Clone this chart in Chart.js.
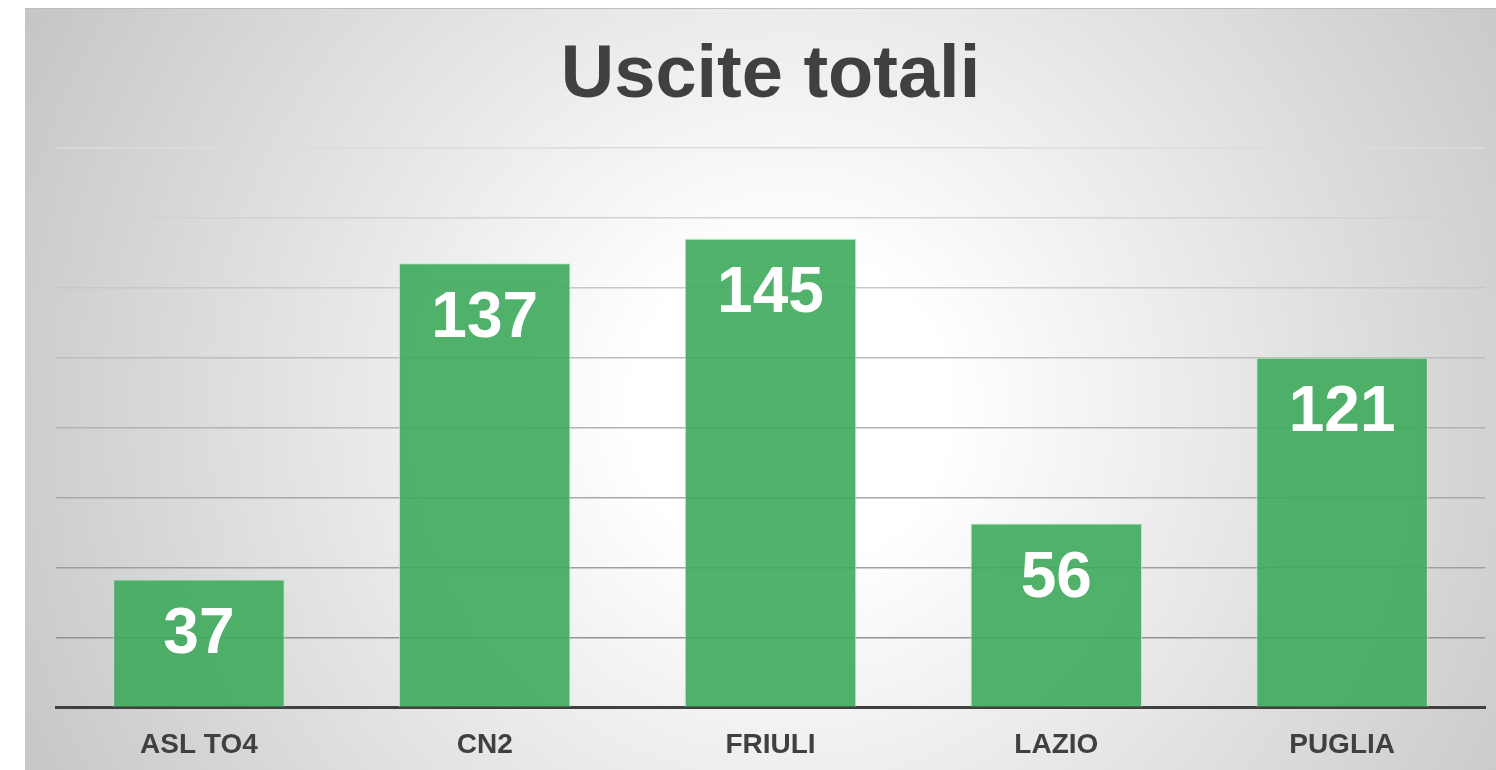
<!DOCTYPE html>
<html lang="it">
<head>
<meta charset="utf-8">
<title>Uscite totali</title>
<script src="https://cdn.jsdelivr.net/npm/chart.js@4.4.1/dist/chart.umd.min.js"></script>
<style>
    html, body {
        margin: 0;
        padding: 0;
        background: #ffffff;
        overflow: hidden;
    }
    .contenitore {
        position: absolute;
        left: 25px;
        top: 8px;
        width: 1471px;
        height: 762px;
        overflow: hidden;
        border-top: 1px solid #bdbdbd;
        background: radial-gradient(circle 880px at 765px 400px, #ffffff 0%, #ffffff 18%, #c4c4c4 100%);
    }
    canvas {
        display: block;
    }
</style>
</head>
<body>
<div class="contenitore">
    <canvas id="grafica_uscite" width="1471" height="782"></canvas>
</div>
<script>
// categorie sull'asse x
const regioni = ['ASL TO4', 'CN2', 'FRIULI', 'LAZIO', 'PUGLIA'];
const altezzeBarre = [36.6, 127, 134, 52.6, 100];
// numeri stampati sulle barre
const valoriEtichette = [37, 137, 145, 56, 121];
// griglia asse y
const massimoY = 160;
const passoY = 20;

const fontBase = '"Liberation Sans", Arial, Helvetica, sans-serif';

// colore delle linee di griglia: piu' scure verso il basso
function coloreGriglia(contesto) {
    const valore = contesto.tick ? contesto.tick.value : 0;
    const chiaro = Math.round(138 + (valore / massimoY) * 82);
    return 'rgb(' + chiaro + ',' + chiaro + ',' + chiaro + ')';
}

const etichetteBarre = {
    id: 'etichetteBarre',
    afterDatasetsDraw(chart) {
        const ctx = chart.ctx;
        const meta = chart.getDatasetMeta(0);
        ctx.save();
        ctx.fillStyle = '#ffffff';
        ctx.font = 'bold 64px ' + fontBase;
        ctx.textAlign = 'center';
        ctx.textBaseline = 'middle';
        meta.data.forEach((barra, indice) => {
            ctx.fillText(String(valoriEtichette[indice]), barra.x, barra.y + 56);
        });
        ctx.restore();
    }
};

document.addEventListener('DOMContentLoaded', () => {
    const grafica = document.getElementById('grafica_uscite');

    const configuracion = {
        type: 'bar',
        data: {
            labels: regioni,
            datasets: [{
                label: 'Uscite totali',
                data: altezzeBarre,
                backgroundColor: 'rgba(62, 170, 92, 0.9)',
                borderColor: 'rgba(190, 230, 200, 0.9)',
                borderWidth: 1,
                borderSkipped: 'bottom',
                categoryPercentage: 1,
                barPercentage: 0.6
            }]
        },
        options: {
            responsive: false,
            animation: false,
            layout: {
                padding: { left: 31, right: 11, top: 0, bottom: 8 }
            },
            plugins: {
                legend: { display: false },
                tooltip: { enabled: false },
                title: {
                    display: true,
                    text: 'Uscite totali',
                    color: '#404040',
                    font: { family: fontBase, size: 74, weight: 'bold' },
                    padding: { top: 23, bottom: 27 }
                }
            },
            scales: {
                x: {
                    grid: { display: false, drawTicks: false },
                    border: { display: true, color: '#404040', width: 3 },
                    ticks: {
                        color: '#404040',
                        padding: 21,
                        font: { family: fontBase, size: 28, weight: 'bold' }
                    }
                },
                y: {
                    min: 0,
                    max: massimoY,
                    ticks: { display: false, stepSize: passoY },
                    grid: {
                        drawTicks: false,
                        color: coloreGriglia,
                        lineWidth: 1.5
                    },
                    border: { display: false }
                }
            }
        },
        plugins: [etichetteBarre]
    };

    new Chart(grafica, configuracion);
});
</script>
</body>
</html>
